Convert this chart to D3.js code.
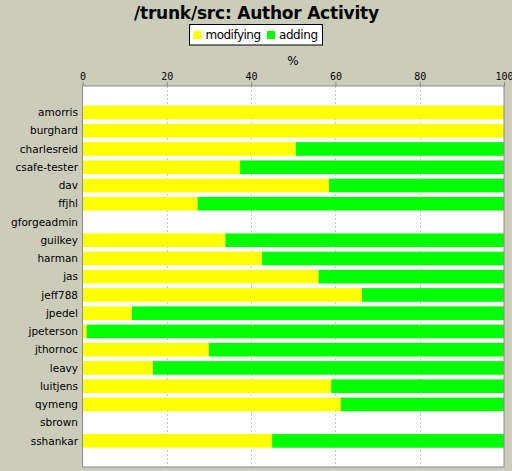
<!DOCTYPE html>
<html>
<head>
<meta charset="utf-8">
<script src="https://cdn.jsdelivr.net/npm/d3@7"></script>
<style>
  body { margin: 0; background: #ccccbb; }
  svg { display: block; }
  .title { font-family: "DejaVu Sans", sans-serif; font-weight: bold; font-size: 17px; }
  .legend text { font-family: "DejaVu Sans", sans-serif; font-size: 12px; }
  .cat { font-family: "DejaVu Sans", sans-serif; font-size: 10.5px; }
  .tick text { font-family: "DejaVu Sans Mono", monospace; font-size: 10px; }
</style>
</head>
<body>
<script>
//chart data
var authors = ["amorris","burghard","charlesreid","csafe-tester","dav","ffjhl","gforgeadmin",
    "guilkey","harman","jas","jeff788","jpedel","jpeterson","jthornoc","leavy","luitjens",
    "qymeng","sbrown","sshankar"];
var modifying = [100,100,50.6,37.4,58.5,27.3,0,33.9,42.6,56.0,66.3,11.7,1.0,30.0,16.7,59.0,61.3,0,45.0];
var adding = [0,0,49.4,62.6,41.5,72.7,0,66.1,57.4,44.0,33.7,88.3,99.0,70.0,83.3,41.0,38.7,0,55.0];
var seriesNames = ["modifying","adding"];
var seriesColors = ["#ffff00","#00ff00"];
var xTicks = [0,20,40,60,80,100];

var width = 512, height = 471;
var svg = d3.select("body").append("svg")
    .attr("width", width)
    .attr("height", height);

//background
svg.append("rect").attr("width", width).attr("height", height).attr("fill", "#ccccbb");

//title
svg.append("text").attr("class", "title")
    .attr("x", 256.5).attr("y", 18.5)
    .attr("text-anchor", "middle")
    .attr("textLength", 245)
    .text("/trunk/src: Author Activity");

//legend
var legend = svg.append("g").attr("class", "legend");
legend.append("rect")
    .attr("x", 189.5).attr("y", 24.5).attr("width", 133).attr("height", 20.5)
    .attr("fill", "#fff").attr("stroke", "#000");
var legX = [193.5, 267];
var legTextW = [55.5, 39];
seriesNames.forEach(function(name, i){
    legend.append("rect")
        .attr("x", legX[i]).attr("y", 31).attr("width", 8).attr("height", 8)
        .attr("fill", seriesColors[i]);
    legend.append("text")
        .attr("x", legX[i] + 12).attr("y", 39)
        .attr("textLength", legTextW[i])
        .text(name);
});

//plot area
var plot = {left: 82.5, right: 504, top: 86, bottom: 467};
var x = d3.scaleLinear().domain([0, 100]).range([plot.left, plot.right]);
var y = d3.scaleBand().domain(authors)
    .range([105.7, 447.7])
    .paddingInner(0.255)
    .paddingOuter(0);

svg.append("rect")
    .attr("x", plot.left).attr("y", plot.top)
    .attr("width", plot.right - plot.left).attr("height", plot.bottom - plot.top)
    .attr("fill", "#fff");

//gridlines
svg.selectAll(".grid")
    .data(xTicks.slice(1, -1))
    .enter().append("line")
    .attr("class", "grid")
    .attr("x1", function(d){ return Math.round(x(d)) + 0.5; })
    .attr("x2", function(d){ return Math.round(x(d)) + 0.5; })
    .attr("y1", plot.top).attr("y2", plot.bottom)
    .attr("stroke", "#c8c8c8").attr("stroke-dasharray", "2,2");

//stacked bars
var stack = d3.stack().keys(seriesNames);
var rows = authors.map(function(a, i){
    return {author: a, modifying: modifying[i], adding: adding[i]};
});
var layers = stack(rows);
svg.selectAll(".layer")
    .data(layers)
    .enter().append("g")
    .attr("class", "layer")
    .attr("fill", function(d, i){ return seriesColors[i]; })
    .selectAll("rect")
    .data(function(d){ return d; })
    .enter().append("rect")
    .attr("x", function(d){ return x(d[0]); })
    .attr("y", function(d){ return y(d.data.author); })
    .attr("width", function(d){ return x(d[1]) - x(d[0]); })
    .attr("height", y.bandwidth());

//plot outline
svg.append("rect")
    .attr("x", plot.left).attr("y", plot.top)
    .attr("width", plot.right - plot.left).attr("height", plot.bottom - plot.top)
    .attr("fill", "none").attr("stroke", "#8a8a8a");

//top axis
var xAxis = d3.axisTop(x).tickValues(xTicks).tickSize(4).tickPadding(2);
var axisG = svg.append("g")
    .attr("transform", "translate(0," + plot.top + ")")
    .call(xAxis);
axisG.select(".domain").remove();
axisG.selectAll(".tick line").attr("stroke", "#8a8a8a");
axisG.selectAll(".tick text").attr("fill", "#000");

svg.append("text")
    .attr("x", 293).attr("y", 64.5)
    .attr("text-anchor", "middle")
    .style("font-family", "DejaVu Sans, sans-serif")
    .style("font-size", "12px")
    .text("%");

//category labels
svg.selectAll(".cat")
    .data(authors)
    .enter().append("text")
    .attr("class", "cat")
    .attr("x", 78)
    .attr("y", function(d){ return y(d) + y.bandwidth() / 2; })
    .attr("dy", "0.35em")
    .attr("text-anchor", "end")
    .text(function(d){ return d; });
</script>
</body>
</html>
